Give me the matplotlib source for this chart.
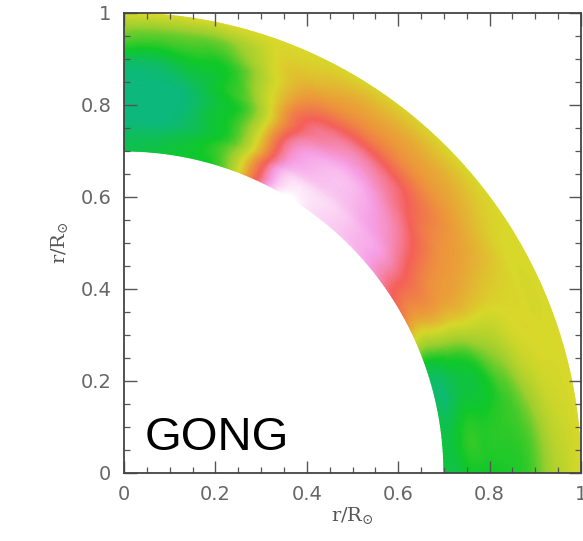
import numpy as np
import matplotlib
matplotlib.use("Agg")
import matplotlib.pyplot as plt
import matplotlib.tri as mtri
from matplotlib.colors import LinearSegmentedColormap
from matplotlib.ticker import MultipleLocator

# ---- data -------------------------------------------------------------
radius = [0.70, 0.75, 0.80, 0.85, 0.90, 0.95, 1.00]          # r/R_sun
latitude = [0, 10, 20, 25, 30, 35, 40, 45, 50, 55, 60, 65, 70, 75, 80, 85, 90]  # degrees
# colour-coded level (0 teal ... 7 white) per latitude row, per radius column
level = [
    [0.8, 0.9, 1.0, 1.1, 1.5, 2.4, 3.0],   # 0
    [0.6, 0.9, 1.0, 1.3, 2.0, 2.8, 3.0],   # 10
    [1.0, 1.3, 1.7, 2.3, 2.9, 3.0, 3.0],   # 20
    [3.2, 3.2, 3.3, 3.2, 3.1, 3.0, 3.0],   # 25
    [4.6, 4.3, 4.0, 3.8, 3.5, 3.1, 3.0],   # 30
    [5.3, 5.0, 4.5, 4.1, 3.8, 3.3, 3.0],   # 35
    [6.0, 5.8, 5.3, 4.6, 4.1, 3.6, 3.0],   # 40
    [6.3, 6.1, 5.8, 5.2, 4.3, 3.7, 3.0],   # 45
    [6.5, 6.4, 6.2, 5.6, 4.5, 3.8, 3.1],   # 50
    [6.7, 6.5, 6.3, 5.7, 4.6, 3.8, 3.1],   # 55
    [7.0, 6.4, 6.0, 5.4, 4.5, 3.7, 3.0],   # 60
    [5.3, 5.0, 4.7, 4.3, 3.9, 3.4, 3.0],   # 65
    [2.4, 2.2, 2.0, 2.0, 2.5, 2.9, 3.0],   # 70
    [1.0, 1.0, 0.9, 1.0, 1.1, 1.8, 3.0],   # 75
    [0.9, 0.5, 0.2, 0.3, 0.9, 1.5, 3.0],   # 80
    [0.7, 0.2, 0.0, 0.0, 0.5, 1.5, 3.0],   # 85
    [0.6, 0.2, 0.0, 0.0, 0.5, 1.6, 3.0],   # 90
]
ticks = [0, 0.2, 0.4, 0.6, 0.8, 1]
tick_labels = ["0", "0.2", "0.4", "0.6", "0.8", "1"]
label_text = "GONG"

# ---- figure -----------------------------------------------------------
plt.rcParams["mathtext.fontset"] = "dejavuserif"
fig = plt.figure(figsize=(5.83, 5.41), dpi=100)
ax = fig.add_axes([124 / 583, 68 / 541, 457 / 583, 460 / 541])

colors = ["#0cb87c", "#10c828", "#9ccf2e", "#d8d82a", "#ec9a3a",
          "#f4605a", "#f6a0e6", "#ffffff"]
cmap = LinearSegmentedColormap.from_list("gong", colors)

rad = np.array(radius)
lat = np.array(latitude, dtype=float)
LAT, RAD = np.meshgrid(lat, rad, indexing="ij")
Z = np.array(level)

# triangulate in normalised (latitude, radius) space, let matplotlib refine
u = (LAT / 90.0).ravel()
v = ((RAD - rad.min()) / (rad.max() - rad.min())).ravel()
tri = mtri.Triangulation(u, v)
refiner = mtri.UniformTriRefiner(tri)
tri_f, z_f = refiner.refine_field(Z.ravel(), subdiv=4)
lat_f = np.deg2rad(tri_f.x * 90.0)
rad_f = tri_f.y * (rad.max() - rad.min()) + rad.min()
tri_xy = mtri.Triangulation(rad_f * np.cos(lat_f), rad_f * np.sin(lat_f),
                            tri_f.triangles)
ax.tripcolor(tri_xy, z_f, cmap=cmap, vmin=0, vmax=7, shading="gouraud",
             rasterized=True)

ax.set_xlim(0, 1)
ax.set_ylim(0, 1)
ax.set_xticks(ticks)
ax.set_yticks(ticks)
ax.set_xticklabels(tick_labels)
ax.set_yticklabels(tick_labels)
ax.xaxis.set_minor_locator(MultipleLocator(0.05))
ax.yaxis.set_minor_locator(MultipleLocator(0.05))
ax.tick_params(which="both", direction="in", top=True, right=True,
               colors="#555555", labelcolor="#666666", labelsize=14)
ax.tick_params(which="major", length=9, width=1.0, pad=9)
ax.tick_params(which="minor", length=4, width=0.9)
for s in ax.spines.values():
    s.set_color("#444444")
    s.set_linewidth(1.3)

ax.set_xlabel(r"$\mathrm{r/R}_{\odot}$", fontsize=14, color="#555555", labelpad=0)
ax.set_ylabel(r"$\mathrm{r/R}_{\odot}$", fontsize=14, color="#555555", labelpad=8)

ax.text(0.045, 0.05, label_text, fontsize=34, family="Liberation Sans",
        color="black", transform=ax.transAxes, ha="left", va="baseline")

fig.savefig("out.png", dpi=100)
